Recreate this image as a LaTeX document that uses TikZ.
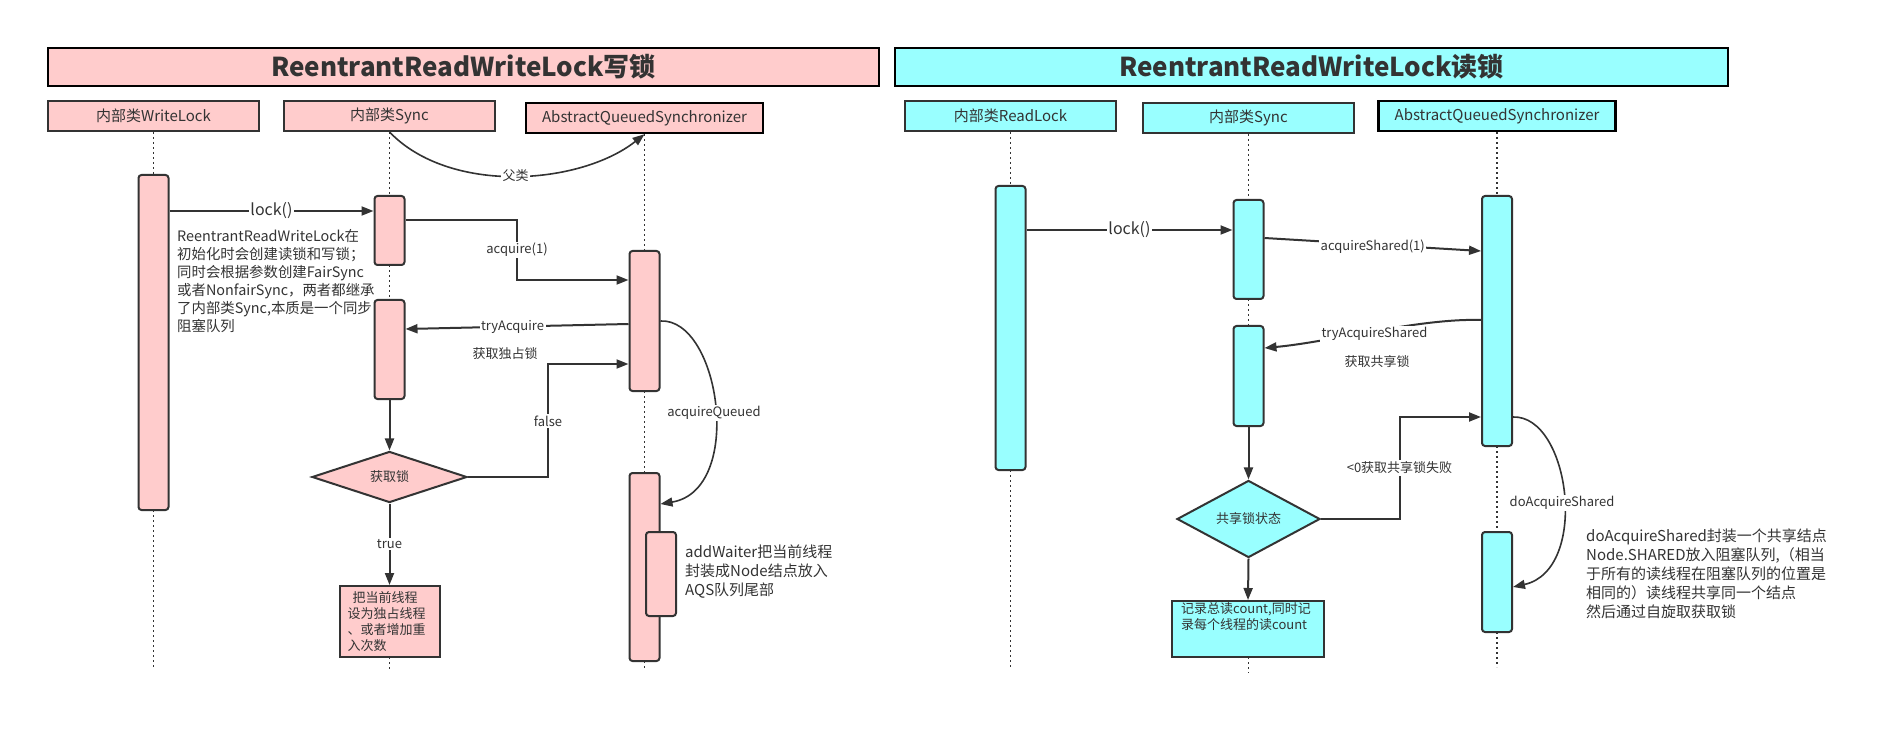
\documentclass[tikz,border=0pt]{standalone}
\usepackage{fontspec}
\setmainfont{Noto Sans CJK SC}
\usetikzlibrary{arrows.meta,shapes.geometric}
\definecolor{pinkc}{HTML}{FFCCCC}
\definecolor{cyanc}{HTML}{99FFFF}
\definecolor{ink}{HTML}{333333}
\begin{document}
\begin{tikzpicture}[x=1pt,y=-1pt,
  every node/.style={text=ink,font=\fontsize{13}{15}\selectfont},
  titlebox/.style={draw=black,line width=2.5pt,minimum height=38pt,inner sep=0pt,font=\fontsize{26}{30}\selectfont\bfseries},
  head/.style={draw=ink,line width=2pt,minimum height=30pt,inner sep=0pt,font=\fontsize{15}{17}\selectfont},
  headaqs/.style={head,draw=black,line width=2.5pt},
  act/.style={draw=ink,line width=2pt,rounded corners=3pt,minimum width=30pt,inner sep=0pt},
  life/.style={draw=ink,line width=1.6pt,dash pattern=on 2pt off 3pt},
  msg/.style={draw=ink,line width=2pt,-{Triangle[length=12pt,width=9pt]}},
  curv/.style={draw=ink,line width=1.6pt,-{Triangle[length=12pt,width=9pt]}},
  lbl/.style={fill=white,inner sep=1.5pt},
  biglbl/.style={lbl,font=\fontsize{16}{18}\selectfont},
  dec/.style={diamond,draw=ink,line width=2pt,inner sep=0pt},
  note/.style={align=left,inner sep=0pt,anchor=west}
]
\useasboundingbox (0,0) rectangle (1896,735);

% ================= LEFT PANEL =================
\node[titlebox,fill=pinkc,minimum width=831pt] (titleL) at (463.5,67) {ReentrantReadWriteLock写锁};
\node[head,fill=pinkc,minimum width=211pt] (hWL) at (153.5,116) {内部类WriteLock};
\node[head,fill=pinkc,minimum width=211pt] (hSL) at (389.5,116) {内部类Sync};
\node[headaqs,fill=pinkc,minimum width=237pt] (hAL) at (644.5,118) {AbstractQueuedSynchronizer};

\coordinate (eWL) at (153.5,669);
\coordinate (eBL) at (389.5,671);
\coordinate (eAL) at (644.5,669);

\draw[life] (hWL.south) -- (153.5,175);
\draw[life] (153.5,510) -- (eWL);
\draw[life] (hSL.south) -- (389.5,196);
\draw[life] (389.5,265) -- (389.5,300);
\draw[life] (389.5,657) -- (eBL);
\draw[life] (hAL.south) -- (644.5,251);
\draw[life] (644.5,391) -- (644.5,473);
\draw[life] (644.5,661) -- (eAL);

\node[act,fill=pinkc,minimum height=335pt] (actWL) at (153.5,342.5) {};
\node[act,fill=pinkc,minimum height=69pt] (actS1L) at (389.5,230.5) {};
\node[act,fill=pinkc,minimum height=99pt] (actS2L) at (389.5,349.5) {};
\node[act,fill=pinkc,minimum height=140pt] (actA1L) at (644.5,321) {};
\node[act,fill=pinkc,minimum height=188pt] (actA2L) at (644.5,567) {};
\node[act,fill=pinkc,minimum height=84pt] (actA3L) at (661,574) {};

\node[dec,fill=pinkc,minimum width=155pt,minimum height=50pt] (dL) at (389.5,477) {获取锁};
\node[draw=ink,line width=2pt,fill=pinkc,text width=84pt,inner xsep=8pt,inner ysep=2pt,minimum height=71pt,align=left,font=\fontsize{13}{16}\selectfont] (boxL) at (389.5,621.5) {\hspace{0.4em}把当前线程\\设为独占线程\\、或者增加重\\入次数};

% father class curve
\draw[curv] (hSL.south) .. controls (450,195) and (580,185) .. node[pos=0.5,lbl]{父类} (hAL.south);

% lock()
\coordinate (yLock) at (0,211);
\draw[msg] (actWL.east |- yLock) -- node[biglbl]{lock()} (actS1L.west |- yLock);

% acquire(1)
\coordinate (yA1) at (0,220);
\coordinate (jA) at (517,250);
\coordinate (yA2) at (0,280);
\draw[msg] (actS1L.east |- yA1) -| (jA) |- (actA1L.west |- yA2);
\node[lbl] (lA) at (jA) {acquire(1)};

% tryAcquire
\coordinate (yT1) at (0,324);
\coordinate (yT2) at (0,329);
\draw[msg] (actA1L.west |- yT1) -- node[lbl,pos=0.52]{tryAcquire} (actS2L.east |- yT2);
\node (gL) at (505,354) {获取独占锁};

% false
\coordinate (jF) at (548,421);
\coordinate (yF) at (0,364);
\draw[msg] (dL.east) -| (jF) |- (actA1L.west |- yF);
\node[lbl] (lF) at (jF) {false};

% acquireQueued
\coordinate (yQ1) at (0,321);
\coordinate (yQ2) at (0,504);
\draw[curv] (actA1L.east |- yQ1) .. controls (720,318) and (745,490) .. (actA2L.east |- yQ2);
\node[lbl] (lQ) at (714,413) {acquireQueued};

% sync -> decision -> box
\draw[msg] (actS2L.south) -- (dL.north);
\draw[msg] (dL.south) -- node[lbl]{true} (boxL.north);

\node[note,font=\fontsize{14.4}{18}\selectfont] (noteL) at (177,281.5) {ReentrantReadWriteLock在\\初始化时会创建读锁和写锁；\\同时会根据参数创建FairSync\\或者NonfairSync，两者都继承\\了内部类Sync,本质是一个同步\\阻塞队列};
\node[note,font=\fontsize{15}{19}\selectfont] (noteAW) at (685,572) {addWaiter把当前线程\\封装成Node结点放入\\AQS队列尾部};

% ================= RIGHT PANEL =================
\node[titlebox,fill=cyanc,minimum width=833pt] (titleR) at (1311.5,67) {ReentrantReadWriteLock读锁};
\node[head,fill=cyanc,minimum width=211pt] (hWR) at (1010.5,116) {内部类ReadLock};
\node[head,fill=cyanc,minimum width=211pt] (hSR) at (1248.5,118) {内部类Sync};
\node[headaqs,fill=cyanc,minimum width=237pt] (hAR) at (1497,116) {AbstractQueuedSynchronizer};

\coordinate (eWR) at (1010.5,669);
\coordinate (eBR) at (1248.5,673);
\coordinate (eAR) at (1497,667);

\draw[life] (hWR.south) -- (1010.5,186);
\draw[life] (1010.5,470) -- (eWR);
\draw[life] (hSR.south) -- (1248.5,200);
\draw[life] (1248.5,299) -- (1248.5,326);
\draw[life] (1248.5,657) -- (eBR);
\draw[life] (hAR.south) -- (1497,196);
\draw[life] (1497,446) -- (1497,532);
\draw[life] (1497,632) -- (eAR);

\node[act,fill=cyanc,minimum height=284pt] (actRR) at (1010.5,328) {};
\node[act,fill=cyanc,minimum height=99pt] (actS1R) at (1248.5,249.5) {};
\node[act,fill=cyanc,minimum height=100pt] (actS2R) at (1248.5,376) {};
\node[act,fill=cyanc,minimum height=250pt] (actA1R) at (1497,321) {};
\node[act,fill=cyanc,minimum height=100pt] (actA2R) at (1497,582) {};

\node[dec,fill=cyanc,minimum width=143pt,minimum height=48pt] (dR) at (1248.5,519) {共享锁状态};
\node[draw=ink,line width=2pt,fill=cyanc,minimum width=152pt,minimum height=56pt] (boxR) at (1248,629) {};
\node[align=left,inner sep=0pt,anchor=north west,font=\fontsize{13}{16}\selectfont] (boxRtxt) at (1181,602) {记录总读count,同时记\\录每个线程的读count};

% lock()
\coordinate (yLR) at (0,230);
\draw[msg] (actRR.east |- yLR) -- node[biglbl]{lock()} (actS1R.west |- yLR);

% acquireShared(1)
\coordinate (yS1) at (0,238);
\coordinate (yS2) at (0,251);
\draw[msg] (actS1R.east |- yS1) -- node[lbl,pos=0.5,yshift=-2pt]{acquireShared(1)} (actA1R.west |- yS2);

% tryAcquireShared
\coordinate (yR1) at (0,320);
\coordinate (yR2) at (0,348);
\draw[curv,line width=2pt] (actA1R.west |- yR1) .. controls (1420,318) and (1330,342) .. node[pos=0.5,lbl,yshift=-3pt]{tryAcquireShared} (actS2R.east |- yR2);
\node (gR) at (1377,362) {获取共享锁};

% sync -> decision -> box
\draw[msg] (actS2R.south) -- (dR.north);
\draw[msg] (dR.south) -- (boxR.north);

% <0 failure
\coordinate (jL) at (1399.5,468);
\coordinate (yL) at (0,417);
\draw[msg] (dR.east) -| (jL) |- (actA1R.west |- yL);
\node[lbl] (lL) at (jL) {<0获取共享锁失败};

% doAcquireShared
\coordinate (yD1) at (0,417);
\coordinate (yD2) at (0,587);
\draw[curv] (actA1R.east |- yD1) .. controls (1570,415) and (1590,570) .. (actA2R.east |- yD2);
\node[lbl] (lD) at (1562,503) {doAcquireShared};

\node[note,font=\fontsize{15}{19}\selectfont] (noteR) at (1586,574) {doAcquireShared封装一个共享结点\\Node.SHARED放入阻塞队列,（相当\\于所有的读线程在阻塞队列的位置是\\相同的）读线程共享同一个结点\\然后通过自旋取获取锁};
\end{tikzpicture}
\end{document}
